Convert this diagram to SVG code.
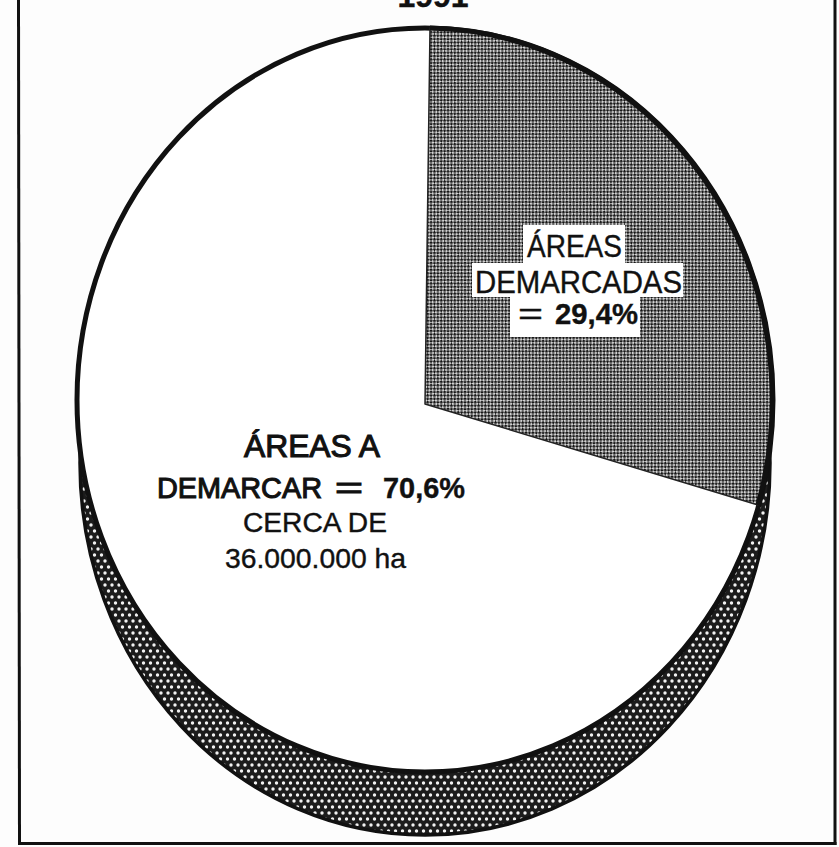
<svg xmlns="http://www.w3.org/2000/svg" width="839" height="847" viewBox="0 0 839 847">
  <defs>
    <pattern id="dots" width="7" height="12" patternUnits="userSpaceOnUse">
      <rect width="7" height="12" fill="#1c1c1c"/>
      <circle cx="3.5" cy="3" r="1.7" fill="#f2f2f2"/>
      <circle cx="0" cy="9" r="1.7" fill="#f2f2f2"/>
      <circle cx="7" cy="9" r="1.7" fill="#f2f2f2"/>
    </pattern>
    <pattern id="checker" width="4.8" height="4.8" patternUnits="userSpaceOnUse" patternTransform="rotate(45)">
      <rect width="4.8" height="4.8" fill="#d2d2d2"/>
      <rect x="0" y="0" width="2.5" height="2.5" fill="#161616"/>
      <rect x="2.4" y="2.4" width="2.4" height="2.4" fill="#161616"/>
    </pattern>
    <style>
      .t { font-family: "Liberation Sans", Arial, Helvetica, sans-serif; fill: #111; }
      .reg { font-weight: normal; stroke: #111; stroke-width: 0.4; }
      .med { font-weight: normal; stroke: #111; stroke-width: 1.1; }
      .bold { font-weight: bold; stroke: #111; stroke-width: 0.4; }
      .box { fill: #ffffff; }
      .frame { stroke: #111; stroke-width: 3; fill: none; }
    </style>
  </defs>

  <rect width="839" height="847" fill="#fdfdfd"/>

  <!-- frame -->
  <g id="frame">
    <line class="frame" x1="18.5" y1="0" x2="19.5" y2="845"/>
    <line class="frame" x1="835" y1="0" x2="835" y2="845"/>
    <line class="frame" x1="18" y1="843.5" x2="836.5" y2="843.5"/>
  </g>

  <!-- title (cut off at the top edge, as in the reference) -->
  <g id="title">
    <text class="t bold" x="433" y="7" font-size="32" text-anchor="middle">1991</text>
  </g>

  <!-- 3D side of the pie -->
  <g id="pie-side">
    <ellipse cx="425" cy="463" rx="345" ry="372" fill="url(#dots)" stroke="#111" stroke-width="3.5"/>
  </g>

  <!-- top face: areas a demarcar -->
  <g id="slice-demarcar">
    <ellipse cx="425" cy="400" rx="348" ry="372" fill="#ffffff" stroke="#111" stroke-width="5"/>
  </g>

  <!-- slice: areas demarcadas -->
  <g id="slice-demarcadas">
    <path d="M425,404 L430,28 A348,372 0 0 1 758,505 Z" fill="url(#checker)" stroke="#222" stroke-width="1.5" stroke-linejoin="round"/>
    <path d="M430,28 A348,372 0 0 1 758,505" fill="none" stroke="#111" stroke-width="5"/>
    <rect class="box" x="523" y="225" width="102" height="38"/>
    <rect class="box" x="472" y="263" width="211" height="34"/>
    <rect class="box" x="510" y="297" width="130" height="40"/>
    <text class="t reg" x="527" y="257" font-size="31" textLength="95" lengthAdjust="spacingAndGlyphs">ÁREAS</text>
    <text class="t reg" x="475" y="293" font-size="32" textLength="207" lengthAdjust="spacingAndGlyphs">DEMARCADAS</text>
    <text class="t reg" x="518" y="324" font-size="30" textLength="25" lengthAdjust="spacingAndGlyphs">=</text>
    <text class="t bold" x="555" y="324" font-size="30" textLength="83" lengthAdjust="spacingAndGlyphs">29,4%</text>
  </g>

  <!-- labels on the large slice -->
  <g id="labels-demarcar">
    <text class="t med" x="244" y="457" font-size="31" textLength="136" lengthAdjust="spacingAndGlyphs">ÁREAS A</text>
    <text class="t med" x="157" y="498" font-size="30" textLength="165" lengthAdjust="spacingAndGlyphs">DEMARCAR</text>
    <text class="t med" x="335" y="498" font-size="30" textLength="28" lengthAdjust="spacingAndGlyphs">=</text>
    <text class="t bold" x="383" y="498" font-size="30" textLength="82" lengthAdjust="spacingAndGlyphs">70,6%</text>
    <text class="t reg" x="243" y="532" font-size="27" textLength="144" lengthAdjust="spacingAndGlyphs">CERCA DE</text>
    <text class="t reg" x="225" y="568" font-size="28" textLength="181" lengthAdjust="spacingAndGlyphs">36.000.000 ha</text>
  </g>
</svg>
